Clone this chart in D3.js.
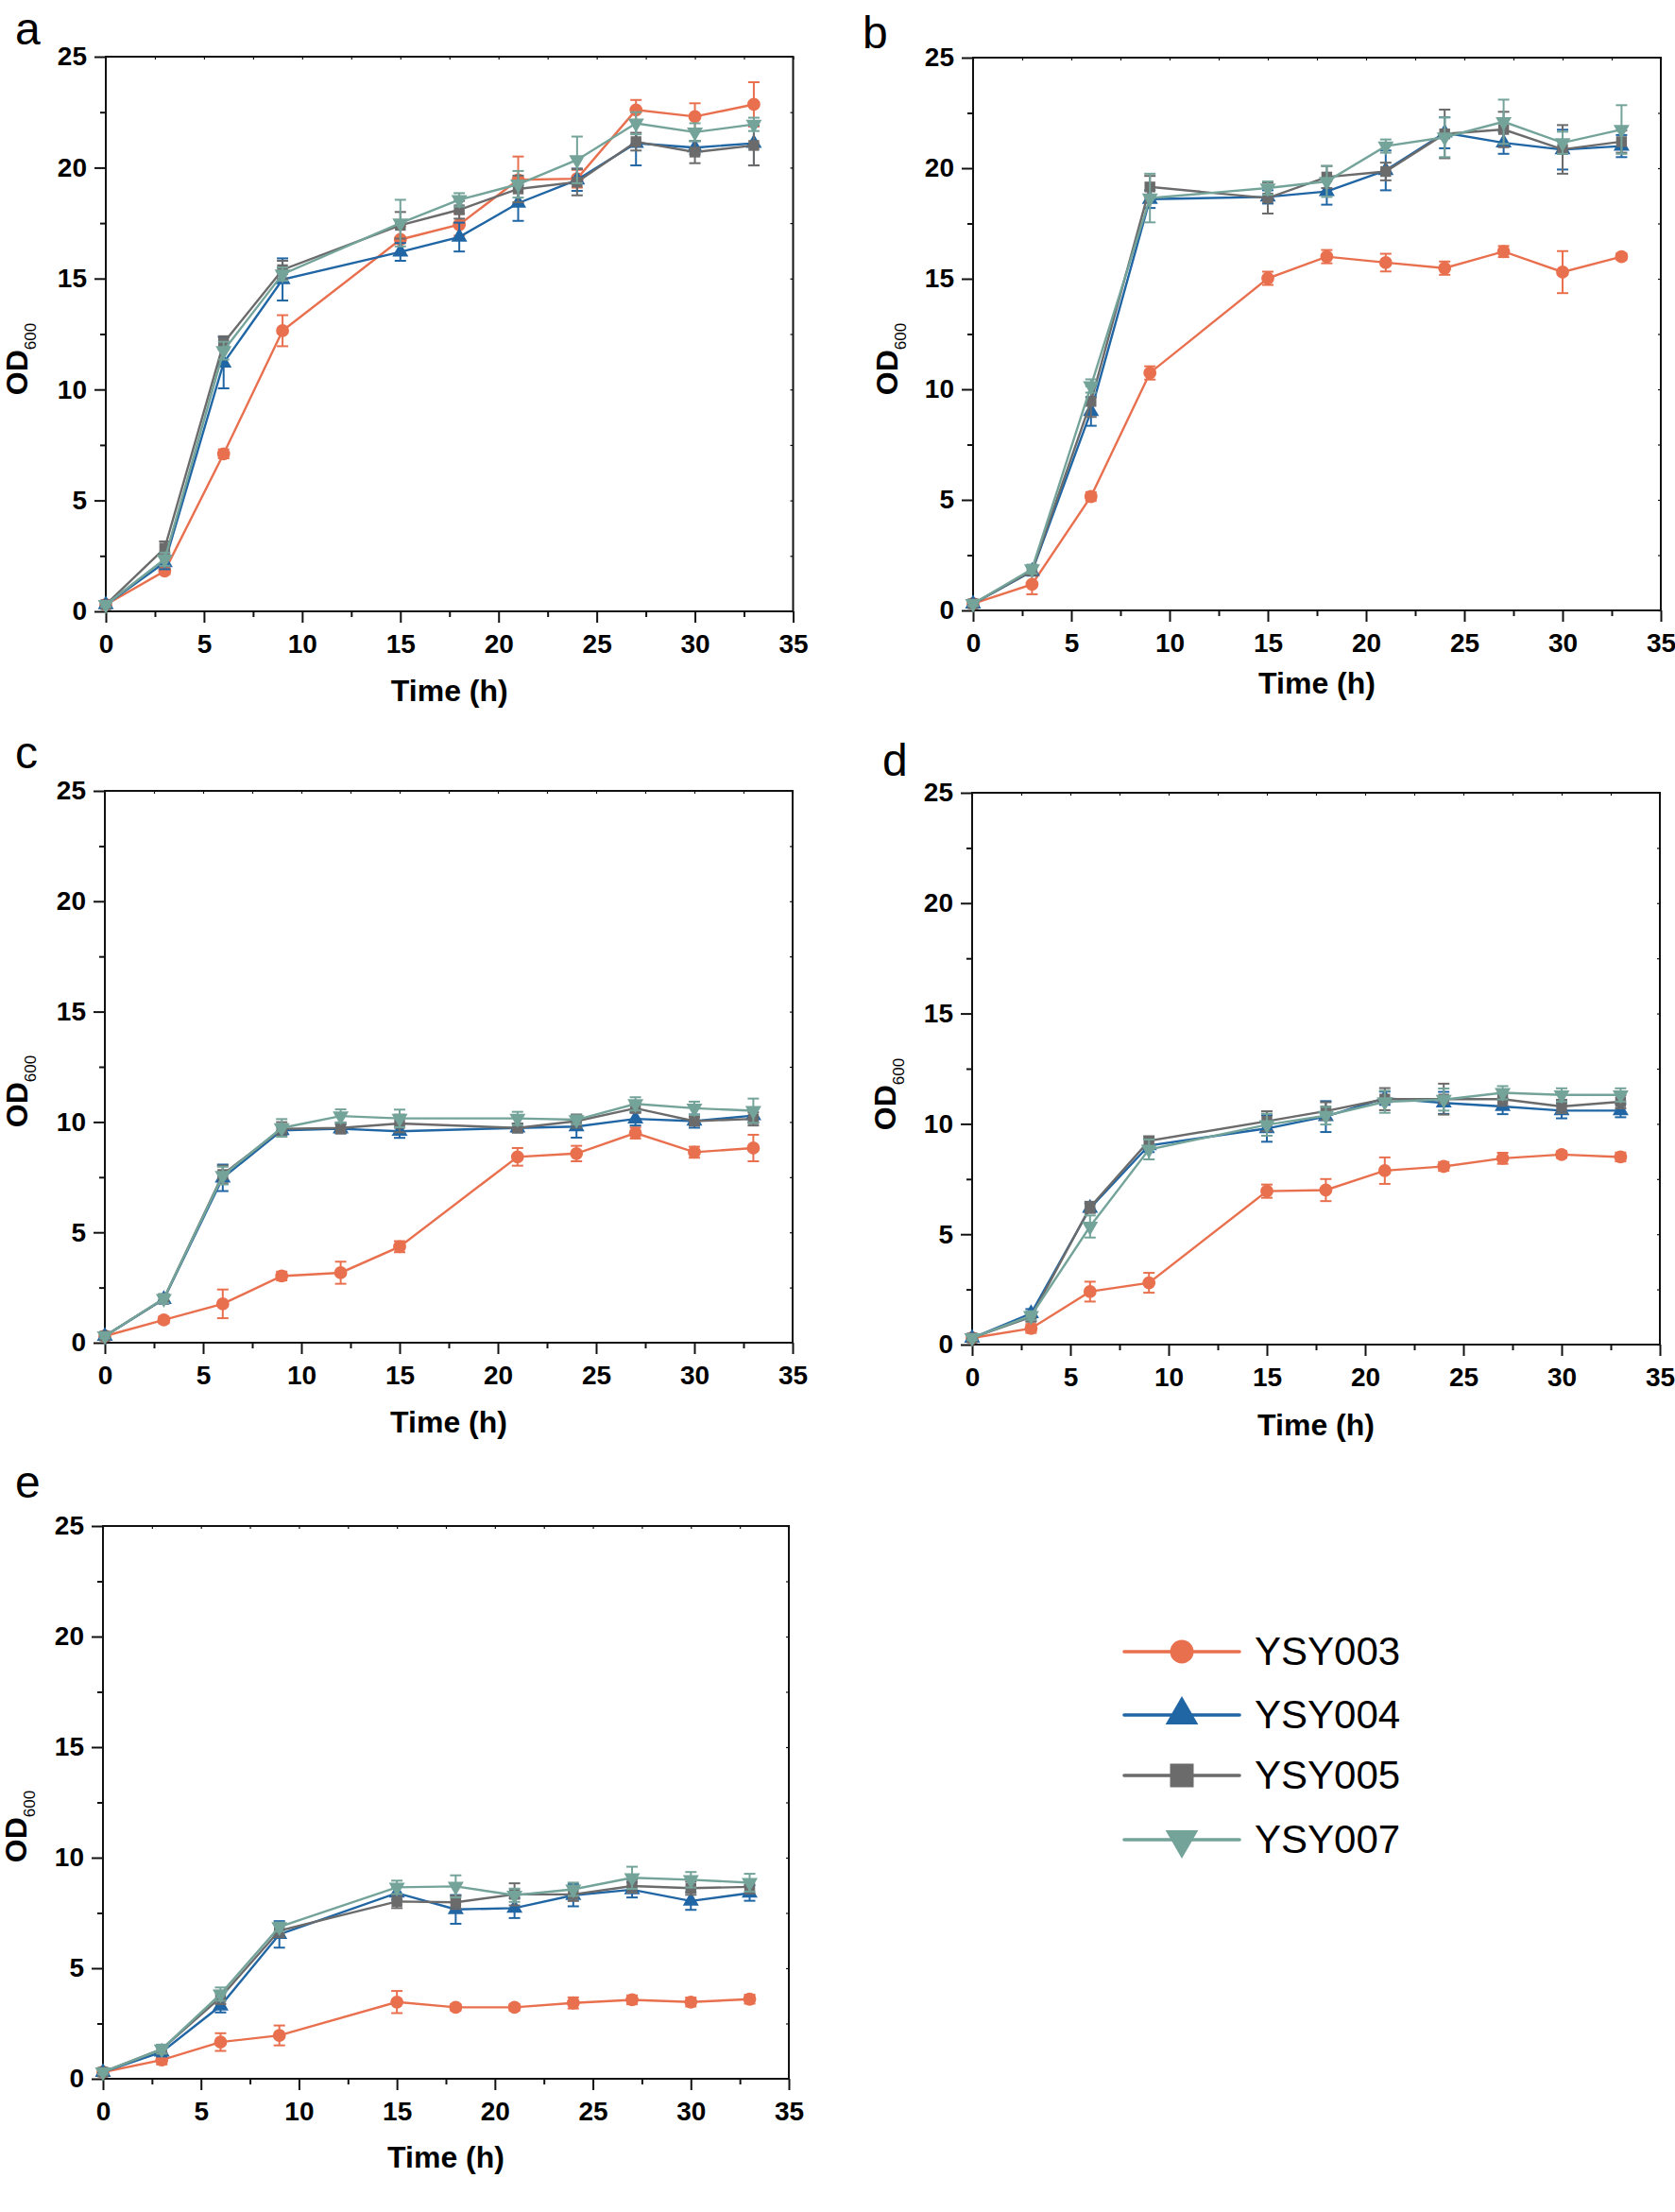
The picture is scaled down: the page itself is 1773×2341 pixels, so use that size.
<!DOCTYPE html>
<html><head><meta charset="utf-8">
<script src="https://cdn.jsdelivr.net/npm/d3@7/dist/d3.min.js"></script>
<style>body{margin:0;background:#fff}svg{display:block}</style>
</head><body>
<svg id="chart" width="1773" height="2341"></svg>
<script>
// ---------- DATA ----------
const strains = ["YSY003", "YSY004", "YSY005", "YSY007"];
const panelLetters = ["a", "b", "c", "d", "e"];
const xTickValues = [0, 5, 10, 15, 20, 25, 30, 35];
const yTickValues = [0, 5, 10, 15, 20, 25];
const xLabel = "Time (h)";

const timesA = [0, 3, 6, 9, 15, 18, 21, 24, 27, 30, 33];
const timesB = [0, 3, 6, 9, 15, 18, 21, 24, 27, 30, 33];
const timesC = [0, 3, 6, 9, 12, 15, 21, 24, 27, 30, 33];
const timesD = [0, 3, 6, 9, 15, 18, 21, 24, 27, 30, 33];
const timesE = [0, 3, 6, 9, 15, 18, 21, 24, 27, 30, 33];

// panel a
const a003 = [0.3, 1.82, 7.1, 12.65, 16.76, 17.43, 19.45, 19.5, 22.6, 22.3, 22.85];
const a003Err = [0.1, 0.15, 0.2, 0.7, 0.6, 0.5, 1.05, 0.4, 0.45, 0.6, 1.0];
const a004 = [0.3, 2.2, 11.2, 14.96, 16.2, 16.87, 18.4, 19.45, 21.1, 20.9, 21.1];
const a004Err = [0.1, 0.3, 1.15, 0.95, 0.4, 0.65, 0.8, 0.5, 1.0, 0.3, 1.0];
const a005 = [0.3, 2.85, 12.1, 15.4, 17.4, 18.1, 19.04, 19.35, 21.17, 20.7, 21.0];
const a005Err = [0.1, 0.3, 0.3, 0.4, 0.6, 0.4, 0.6, 0.6, 0.4, 0.5, 0.9];
const a007 = [0.3, 2.35, 11.75, 15.2, 17.5, 18.55, 19.25, 20.35, 22.0, 21.6, 21.95];
const a007Err = [0.1, 0.3, 0.4, 0.3, 1.05, 0.3, 0.6, 1.05, 0.5, 0.4, 0.3];

// panel b
const b003 = [0.3, 1.18, 5.15, 10.74, 15.02, 16.0, 15.73, 15.48, 16.23, 15.3, 16.0];
const b003Err = [0.1, 0.45, 0.2, 0.3, 0.3, 0.3, 0.4, 0.3, 0.25, 0.95, 0.15];
const b004 = [0.3, 1.77, 9.0, 18.6, 18.7, 18.95, 19.9, 21.6, 21.15, 20.84, 21.0];
const b004Err = [0.1, 0.2, 0.65, 0.4, 0.3, 0.6, 0.9, 0.7, 0.5, 0.9, 0.5];
const b005 = [0.3, 1.8, 9.45, 19.15, 18.65, 19.6, 19.85, 21.55, 21.75, 20.85, 21.2];
const b005Err = [0.1, 0.2, 0.7, 0.5, 0.7, 0.5, 0.4, 1.1, 0.8, 1.1, 0.5];
const b007 = [0.3, 1.87, 10.15, 18.65, 19.1, 19.4, 21.0, 21.4, 22.1, 21.15, 21.75];
const b007Err = [0.1, 0.2, 0.3, 1.1, 0.3, 0.7, 0.3, 0.9, 1.0, 0.5, 1.1];

// panel c
const c003 = [0.3, 1.03, 1.76, 3.02, 3.17, 4.35, 8.42, 8.57, 9.5, 8.63, 8.82];
const c003Err = [0.1, 0.15, 0.65, 0.2, 0.5, 0.25, 0.4, 0.35, 0.25, 0.25, 0.6];
const c004 = [0.3, 1.97, 7.47, 9.62, 9.69, 9.58, 9.73, 9.79, 10.14, 10.04, 10.29];
const c004Err = [0.1, 0.2, 0.6, 0.2, 0.2, 0.3, 0.2, 0.5, 0.3, 0.3, 0.3];
const c005 = [0.3, 1.99, 7.62, 9.69, 9.73, 9.93, 9.73, 10.04, 10.62, 10.04, 10.14];
const c005Err = [0.1, 0.2, 0.4, 0.3, 0.25, 0.4, 0.2, 0.3, 0.2, 0.2, 0.3];
const c007 = [0.3, 2.0, 7.57, 9.73, 10.27, 10.16, 10.16, 10.1, 10.82, 10.62, 10.51];
const c007Err = [0.1, 0.2, 0.4, 0.4, 0.3, 0.4, 0.3, 0.2, 0.3, 0.3, 0.55];

// panel d
const d003 = [0.3, 0.73, 2.4, 2.8, 6.95, 7.0, 7.88, 8.07, 8.44, 8.61, 8.5];
const d003Err = [0.1, 0.2, 0.45, 0.45, 0.3, 0.5, 0.6, 0.2, 0.25, 0.15, 0.2];
const d004 = [0.3, 1.41, 6.18, 9.02, 9.79, 10.33, 11.16, 10.95, 10.79, 10.6, 10.6];
const d004Err = [0.1, 0.2, 0.2, 0.3, 0.6, 0.7, 0.3, 0.5, 0.35, 0.35, 0.3];
const d005 = [0.3, 1.25, 6.22, 9.23, 10.12, 10.58, 11.12, 11.12, 11.12, 10.79, 11.0];
const d005Err = [0.1, 0.2, 0.25, 0.2, 0.45, 0.4, 0.5, 0.7, 0.3, 0.3, 0.3];
const d007 = [0.3, 1.31, 5.35, 8.84, 9.96, 10.37, 11.0, 11.1, 11.41, 11.31, 11.31];
const d007Err = [0.1, 0.2, 0.5, 0.45, 0.5, 0.4, 0.5, 0.5, 0.3, 0.3, 0.3];

// panel e
const e003 = [0.3, 0.85, 1.66, 1.96, 3.47, 3.23, 3.23, 3.43, 3.57, 3.47, 3.6];
const e003Err = [0.1, 0.2, 0.4, 0.45, 0.5, 0.15, 0.15, 0.25, 0.2, 0.2, 0.2];
const e004 = [0.3, 1.21, 3.3, 6.53, 8.4, 7.66, 7.72, 8.3, 8.55, 8.04, 8.4];
const e004Err = [0.1, 0.2, 0.3, 0.6, 0.3, 0.65, 0.45, 0.5, 0.35, 0.4, 0.35];
const e005 = [0.3, 1.34, 3.68, 6.7, 8.02, 7.98, 8.34, 8.34, 8.72, 8.62, 8.68];
const e005Err = [0.1, 0.2, 0.3, 0.3, 0.3, 0.3, 0.5, 0.3, 0.3, 0.3, 0.3];
const e007 = [0.3, 1.34, 3.83, 6.87, 8.66, 8.7, 8.3, 8.57, 9.09, 9.0, 8.87];
const e007Err = [0.1, 0.2, 0.3, 0.2, 0.3, 0.5, 0.3, 0.3, 0.5, 0.35, 0.4];

// ---------- STYLE / LAYOUT ----------
const colors = ["#E9704E", "#2166A4", "#6B6B6B", "#74A39A"];
const symbols = ["circle", "triangle", "square", "triangleDown"];
const FONT = "'Liberation Sans', Arial, Helvetica, sans-serif";

const panels = [
  {letter: "a", times: timesA, vals: [a003, a004, a005, a007], errs: [a003Err, a004Err, a005Err, a007Err],
   box: {x0: 112, x1: 839.5, y0: 60, y1: 647}, lx: 16, ly: 47, odx: 29, ody: 380, tly: 742},
  {letter: "b", times: timesB, vals: [b003, b004, b005, b007], errs: [b003Err, b004Err, b005Err, b007Err],
   box: {x0: 1030, x1: 1758, y0: 61, y1: 646}, lx: 913, ly: 51, odx: 950, ody: 380, tly: 734},
  {letter: "c", times: timesC, vals: [c003, c004, c005, c007], errs: [c003Err, c004Err, c005Err, c007Err],
   box: {x0: 111, x1: 839, y0: 837, y1: 1421}, lx: 16, ly: 813, odx: 29, ody: 1155, tly: 1516},
  {letter: "d", times: timesD, vals: [d003, d004, d005, d007], errs: [d003Err, d004Err, d005Err, d007Err],
   box: {x0: 1029, x1: 1757, y0: 839, y1: 1423}, lx: 934, ly: 821, odx: 948, ody: 1158, tly: 1519},
  {letter: "e", times: timesE, vals: [e003, e004, e005, e007], errs: [e003Err, e004Err, e005Err, e007Err],
   box: {x0: 109, x1: 835, y0: 1615, y1: 2200}, lx: 16, ly: 1585, odx: 28, ody: 1933, tly: 2294}
];

const svg = d3.select("#chart");
svg.append("rect").attr("width", 1773).attr("height", 2341).attr("fill", "#fff");

function symbolPath(kind, size) {
  if (kind === "circle") return d3.symbol(d3.symbolCircle, size)();
  if (kind === "square") return d3.symbol(d3.symbolSquare, size)();
  return d3.symbol(d3.symbolTriangle, size)();
}

const minorX = [2.5, 7.5, 12.5, 17.5, 22.5, 27.5, 32.5];
const minorY = [2.5, 7.5, 12.5, 17.5, 22.5];

panels.forEach(p => {
  const b = p.box;
  const x = d3.scaleLinear().domain([0, 35]).range([b.x0, b.x1]);
  const y = d3.scaleLinear().domain([0, 25]).range([b.y1, b.y0]);
  const g = svg.append("g");

  g.append("text").attr("x", p.lx).attr("y", p.ly).text(p.letter)
    .attr("font-family", FONT).attr("font-size", 48).attr("fill", "#000");

  const styleAxis = sel => {
    sel.select(".domain").remove();
    sel.selectAll("line").attr("stroke", "#111").attr("stroke-width", 2);
    sel.selectAll("text").attr("font-family", FONT).attr("font-weight", "bold")
      .attr("font-size", 28).attr("fill", "#000");
  };
  g.append("g").attr("transform", `translate(0,${b.y1})`)
    .call(d3.axisBottom(x).tickValues(xTickValues).tickSize(12).tickPadding(12).tickFormat(d3.format("d"))).call(styleAxis);
  g.append("g").attr("transform", `translate(0,${b.y1})`)
    .call(d3.axisBottom(x).tickValues(minorX).tickSize(6).tickFormat("")).call(styleAxis);
  g.append("g").attr("transform", `translate(${b.x0},0)`)
    .call(d3.axisLeft(y).tickValues(yTickValues).tickSize(12).tickPadding(8).tickFormat(d3.format("d"))).call(styleAxis);
  g.append("g").attr("transform", `translate(${b.x0},0)`)
    .call(d3.axisLeft(y).tickValues(minorY).tickSize(6).tickFormat("")).call(styleAxis);
  g.append("g").attr("transform", `translate(0,${b.y0})`)
    .call(d3.axisTop(x).tickValues(xTickValues.concat(minorX)).tickSize(-3).tickFormat("")).call(styleAxis)
    .selectAll("line").attr("stroke-width", 1.2);
  g.append("g").attr("transform", `translate(${b.x1},0)`)
    .call(d3.axisRight(y).tickValues(yTickValues.concat(minorY)).tickSize(-3).tickFormat("")).call(styleAxis)
    .selectAll("line").attr("stroke-width", 1.2);

  g.append("rect").attr("x", b.x0).attr("y", b.y0).attr("width", b.x1 - b.x0).attr("height", b.y1 - b.y0)
    .attr("fill", "none").attr("stroke", "#111").attr("stroke-width", 2);

  g.append("text").attr("x", (b.x0 + b.x1) / 2).attr("y", p.tly).attr("text-anchor", "middle")
    .attr("font-family", FONT).attr("font-weight", "bold").attr("font-size", 32).text(xLabel);
  const od = g.append("text").attr("transform", `translate(${p.odx},${p.ody}) rotate(-90)`)
    .attr("text-anchor", "middle").attr("font-family", FONT).attr("font-weight", "bold").attr("font-size", 32);
  od.append("tspan").text("OD");
  od.append("tspan").attr("font-size", 17).attr("font-weight", "normal").attr("dy", 9).text("600");

  strains.forEach((s, i) => {
    const pts = p.times.map((t, k) => ({t, v: p.vals[i][k], e: p.errs[i][k]}));
    const sg = g.append("g");
    const eb = sg.selectAll("g.eb").data(pts).enter().append("g")
      .attr("stroke", colors[i]).attr("stroke-width", 2);
    eb.append("line").attr("x1", d => x(d.t)).attr("x2", d => x(d.t))
      .attr("y1", d => y(Math.max(0, d.v - d.e))).attr("y2", d => y(d.v + d.e));
    eb.append("line").attr("x1", d => x(d.t) - 6).attr("x2", d => x(d.t) + 6)
      .attr("y1", d => y(d.v + d.e)).attr("y2", d => y(d.v + d.e));
    eb.append("line").attr("x1", d => x(d.t) - 6).attr("x2", d => x(d.t) + 6)
      .attr("y1", d => y(Math.max(0, d.v - d.e))).attr("y2", d => y(Math.max(0, d.v - d.e)));
    sg.append("path").datum(pts)
      .attr("d", d3.line().x(d => x(d.t)).y(d => y(d.v)))
      .attr("fill", "none").attr("stroke", colors[i]).attr("stroke-width", 2.4);
    const sizes = {circle: 150, triangle: 125, square: 130, triangleDown: 125};
    sg.selectAll("path.m").data(pts).enter().append("path")
      .attr("d", symbolPath(symbols[i], sizes[symbols[i]]))
      .attr("transform", d => `translate(${x(d.t)},${y(d.v)})` + (symbols[i] === "triangleDown" ? " rotate(180)" : ""))
      .attr("fill", colors[i]);
  });
});

// ---------- LEGEND ----------
const legendRows = [1748, 1815, 1879, 1947];
const legendSizes = {circle: 490, triangle: 520, square: 625, triangleDown: 520};
const lg = svg.append("g");
strains.forEach((s, i) => {
  const yy = legendRows[i];
  lg.append("line").attr("x1", 1190).attr("x2", 1312).attr("y1", yy).attr("y2", yy)
    .attr("stroke", colors[i]).attr("stroke-width", 3.6).attr("stroke-linecap", "round");
  lg.append("path").attr("d", symbolPath(symbols[i], legendSizes[symbols[i]]))
    .attr("transform", `translate(1251,${yy})` + (symbols[i] === "triangleDown" ? " rotate(180)" : ""))
    .attr("fill", colors[i]);
  lg.append("text").attr("x", 1328).attr("y", yy + 14).text(s)
    .attr("font-family", FONT).attr("font-size", 42).attr("fill", "#000");
});
</script>
</body></html>
